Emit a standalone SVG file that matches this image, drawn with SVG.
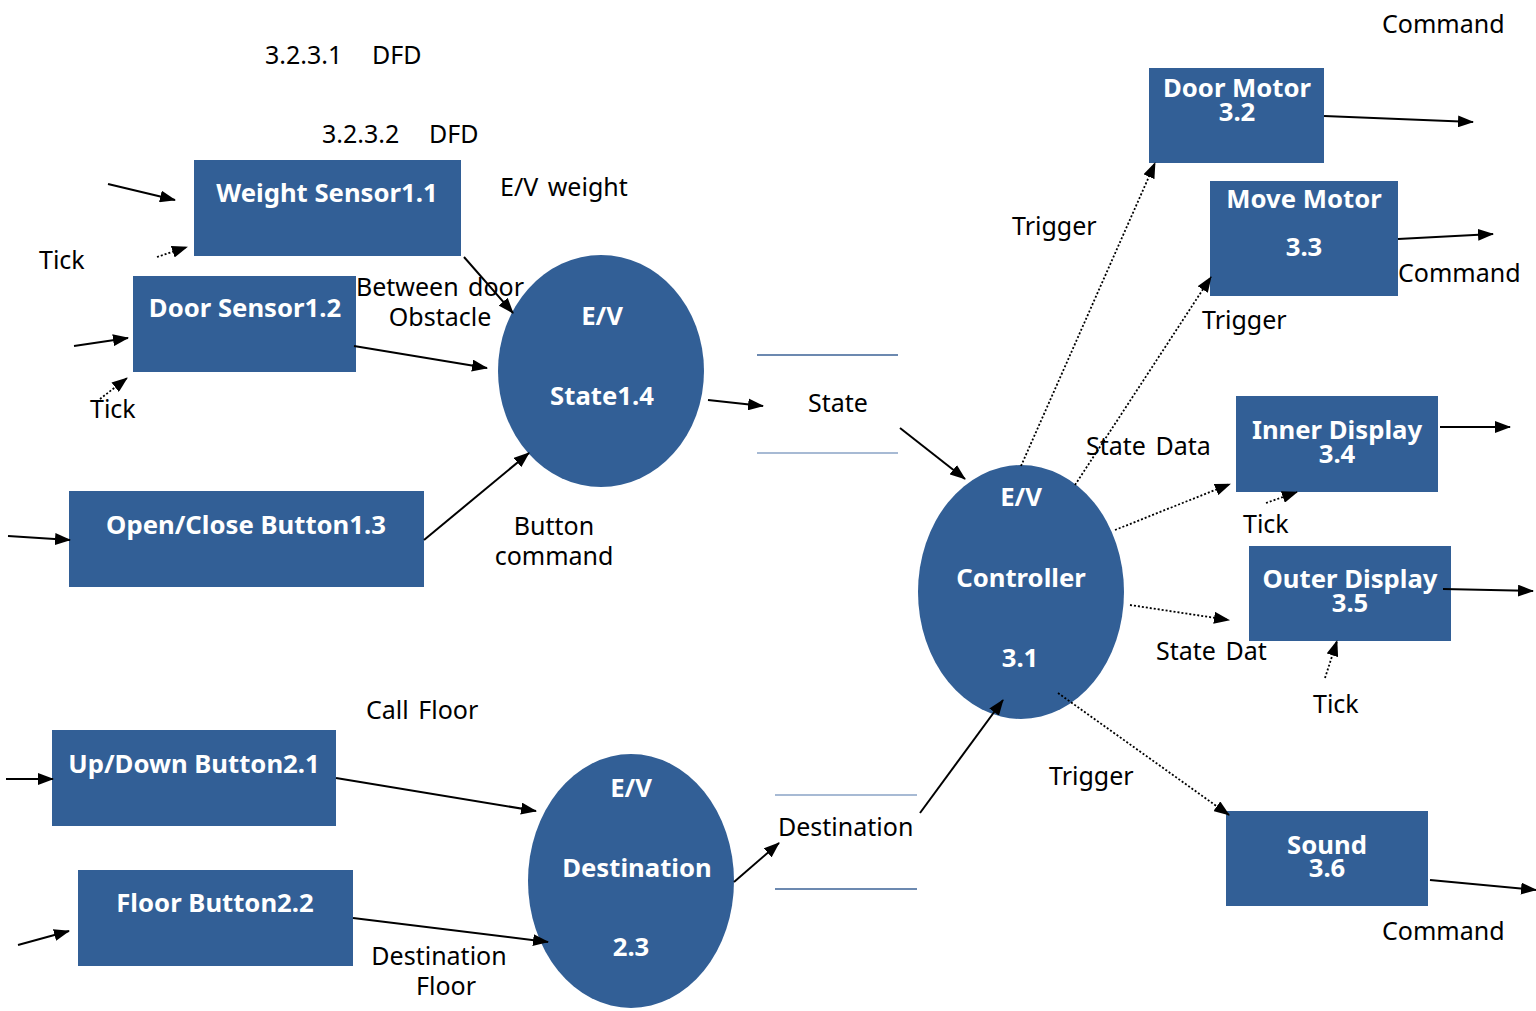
<svg xmlns="http://www.w3.org/2000/svg" width="1536" height="1011" viewBox="0 0 1536 1011">
  <style>
    .proc { fill: #325f96; }
    .nt { font-family: "Noto Sans", "Open Sans", sans-serif; font-weight: bold; font-size: 25.7px; fill: #ffffff; text-anchor: middle; }
    .lbl { font-family: "Noto Sans", "Open Sans", sans-serif; font-size: 25px; word-spacing: 3px; fill: #000000; }
    .mid { text-anchor: middle; }
    .flow { stroke: #000000; stroke-width: 2; fill: none; marker-end: url(#head); }
    .dot { stroke: #000000; stroke-width: 1.8; stroke-dasharray: 2 2; fill: none; marker-end: url(#head); }
    .store-dark { stroke: #3b6296; stroke-width: 1.5; }
    .store-light { stroke: #8aa3c6; stroke-width: 1.5; }
  </style>
  <defs>
    <marker id="head" viewBox="0 0 16 12" markerWidth="16" markerHeight="12" refX="15" refY="6" orient="auto" markerUnits="userSpaceOnUse">
      <path d="M0,0 L16,6 L0,12 z" fill="#000000"/>
    </marker>
  </defs>
  <rect width="1536" height="1011" fill="#ffffff"/>

  <!-- section headings -->
  <text class="lbl" x="265" y="64">3.2.3.1<tspan x="372">DFD</tspan></text>
  <text class="lbl" x="322" y="143">3.2.3.2<tspan x="429">DFD</tspan></text>

  <!-- processes -->
  <g id="weight-sensor">
    <rect class="proc" x="194" y="160" width="267" height="96"/>
    <text class="nt" x="327" y="202">Weight Sensor1.1</text>
  </g>
  <g id="door-sensor">
    <rect class="proc" x="133" y="276" width="223" height="96"/>
    <text class="nt" x="245" y="317">Door Sensor1.2</text>
  </g>
  <g id="open-close-button">
    <rect class="proc" x="69" y="491" width="355" height="96"/>
    <text class="nt" x="246" y="534">Open/Close Button1.3</text>
  </g>
  <g id="ev-state">
    <ellipse class="proc" cx="601" cy="371" rx="103" ry="116"/>
    <text class="nt" x="602" y="325">E/V</text>
    <text class="nt" x="602" y="405">State1.4</text>
  </g>
  <g id="updown-button">
    <rect class="proc" x="52" y="730" width="284" height="96"/>
    <text class="nt" x="194" y="773">Up/Down Button2.1</text>
  </g>
  <g id="floor-button">
    <rect class="proc" x="78" y="870" width="275" height="96"/>
    <text class="nt" x="215" y="912">Floor Button2.2</text>
  </g>
  <g id="ev-destination">
    <ellipse class="proc" cx="631" cy="881" rx="103" ry="127"/>
    <text class="nt" x="631" y="797">E/V</text>
    <text class="nt" x="637" y="877">Destination</text>
    <text class="nt" x="631" y="956">2.3</text>
  </g>
  <g id="ev-controller">
    <ellipse class="proc" cx="1021" cy="592" rx="103" ry="127"/>
    <text class="nt" x="1021" y="506">E/V</text>
    <text class="nt" x="1021" y="587">Controller</text>
    <text class="nt" x="1020" y="667">3.1</text>
  </g>
  <g id="door-motor">
    <rect class="proc" x="1149" y="68" width="175" height="95"/>
    <text class="nt" x="1237" y="97">Door Motor</text>
    <text class="nt" x="1237" y="121">3.2</text>
  </g>
  <g id="move-motor">
    <rect class="proc" x="1210" y="181" width="188" height="115"/>
    <text class="nt" x="1304" y="208">Move Motor</text>
    <text class="nt" x="1304" y="256">3.3</text>
  </g>
  <g id="inner-display">
    <rect class="proc" x="1236" y="396" width="202" height="96"/>
    <text class="nt" x="1337" y="439">Inner Display</text>
    <text class="nt" x="1337" y="463">3.4</text>
  </g>
  <g id="outer-display">
    <rect class="proc" x="1249" y="546" width="202" height="95"/>
    <text class="nt" x="1350" y="588">Outer Display</text>
    <text class="nt" x="1350" y="612">3.5</text>
  </g>
  <g id="sound">
    <rect class="proc" x="1226" y="811" width="202" height="95"/>
    <text class="nt" x="1327" y="854">Sound</text>
    <text class="nt" x="1327" y="877">3.6</text>
  </g>

  <!-- data stores -->
  <g id="state-store">
    <line class="store-dark" x1="757" y1="355" x2="898" y2="355"/>
    <line class="store-light" x1="757" y1="453" x2="898" y2="453"/>
    <text class="lbl mid" x="838" y="412">State</text>
  </g>
  <g id="destination-store">
    <line class="store-light" x1="775" y1="795" x2="917" y2="795"/>
    <line class="store-dark" x1="775" y1="889" x2="917" y2="889"/>
    <text class="lbl" x="778" y="836">Destination</text>
  </g>

  <!-- connectors -->
  <g id="connectors">
    <line class="flow" x1="108" y1="184" x2="175" y2="200"/>
    <line class="dot" x1="157" y1="257" x2="187" y2="247"/>
    <line class="flow" x1="464" y1="257" x2="513" y2="313"/>
    <line class="flow" x1="74" y1="346" x2="128" y2="338"/>
    <line class="dot" x1="100" y1="399" x2="127" y2="378"/>
    <line class="flow" x1="354" y1="346" x2="487" y2="368"/>
    <line class="flow" x1="8" y1="536" x2="70" y2="540"/>
    <line class="flow" x1="424" y1="540" x2="529" y2="453"/>
    <line class="flow" x1="708" y1="400" x2="763" y2="406"/>
    <line class="flow" x1="900" y1="428" x2="965" y2="479"/>
    <line class="flow" x1="6" y1="779" x2="53" y2="779"/>
    <line class="flow" x1="336" y1="778" x2="536" y2="811"/>
    <line class="flow" x1="18" y1="945" x2="69" y2="931"/>
    <line class="flow" x1="353" y1="918" x2="548" y2="942"/>
    <line class="flow" x1="734" y1="882" x2="779" y2="843"/>
    <line class="flow" x1="920" y1="813" x2="1003" y2="700"/>
    <line class="dot" x1="1021" y1="466" x2="1155" y2="163"/>
    <line class="dot" x1="1075" y1="485" x2="1211" y2="277"/>
    <line class="dot" x1="1115" y1="530" x2="1230" y2="484"/>
    <line class="dot" x1="1266" y1="503" x2="1297" y2="492"/>
    <line class="dot" x1="1130" y1="605" x2="1229" y2="620"/>
    <line class="dot" x1="1325" y1="678" x2="1337" y2="641"/>
    <line class="dot" x1="1058" y1="693" x2="1229" y2="815"/>
    <line class="flow" x1="1324" y1="116" x2="1473" y2="122"/>
    <line class="flow" x1="1398" y1="239" x2="1493" y2="234"/>
    <line class="flow" x1="1440" y1="427" x2="1510" y2="427"/>
    <line class="flow" x1="1443" y1="589" x2="1533" y2="591"/>
    <line class="flow" x1="1430" y1="880" x2="1536" y2="890"/>
  </g>

  <!-- flow labels -->
  <text class="lbl" x="500" y="196">E/V weight</text>
  <text class="lbl" x="39" y="269">Tick</text>
  <text class="lbl mid" x="440" y="296">Between door</text>
  <text class="lbl mid" x="440" y="326">Obstacle</text>
  <text class="lbl" x="90" y="418">Tick</text>
  <text class="lbl mid" x="554" y="535">Button</text>
  <text class="lbl mid" x="554" y="565">command</text>
  <text class="lbl" x="366" y="719">Call Floor</text>
  <text class="lbl mid" x="439" y="965">Destination</text>
  <text class="lbl mid" x="446" y="995">Floor</text>
  <text class="lbl" x="1382" y="33">Command</text>
  <text class="lbl" x="1012" y="235">Trigger</text>
  <text class="lbl" x="1398" y="282">Command</text>
  <text class="lbl" x="1202" y="329">Trigger</text>
  <text class="lbl" x="1086" y="455">State Data</text>
  <text class="lbl" x="1243" y="533">Tick</text>
  <text class="lbl" x="1156" y="660">State Dat</text>
  <text class="lbl" x="1313" y="713">Tick</text>
  <text class="lbl" x="1049" y="785">Trigger</text>
  <text class="lbl" x="1382" y="940">Command</text>
</svg>
